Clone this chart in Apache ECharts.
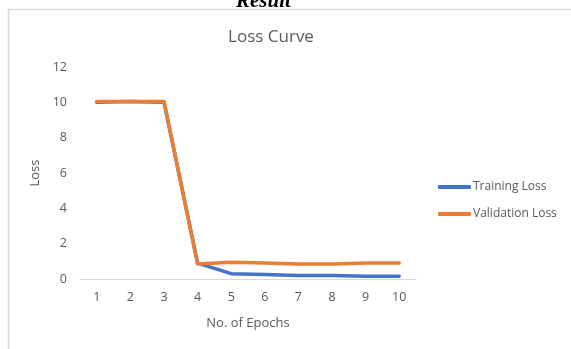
<!DOCTYPE html>
<html>
<head>
<meta charset="utf-8">
<script src="https://cdn.jsdelivr.net/npm/echarts@6/dist/echarts.min.js"></script>
<style>html,body{margin:0;padding:0;background:#fff;}#c{width:571px;height:349px;}</style>
</head>
<body>
<div id="c"></div>
<script>
const categories = ['1','2','3','4','5','6','7','8','9','10'];
const trainingLoss = [10.0, 10.05, 10.0, 0.9, 0.3, 0.25, 0.2, 0.2, 0.15, 0.15];
const validationLoss = [10.05, 10.05, 10.05, 0.85, 0.95, 0.9, 0.85, 0.85, 0.9, 0.9];
const seriesNames = ['Training Loss', 'Validation Loss'];

const chart = echarts.init(document.getElementById('c'), null, {renderer: 'canvas'});
const txt = '#595959';
const font = '"Open Sans", "Noto Sans", sans-serif';
chart.setOption({
  animation: false,
  backgroundColor: '#fff',
  graphic: [
    {type: 'rect', shape: {x: 8.5, y: 9.5, width: 600, height: 400}, style: {fill: 'none', stroke: '#d9d9d9', lineWidth: 1.5}, silent: true},
    {type: 'text', left: 236, top: -9, style: {text: 'Result', font: 'italic bold 21px "Liberation Serif", serif', fill: '#000'}}
  ],
  title: {
    text: 'Loss Curve', left: 266, top: 24, textAlign: 'center',
    textStyle: {color: txt, fontSize: 17, fontWeight: 'normal', fontFamily: font}
  },
  legend: {
    orient: 'vertical', left: 438, top: 181, padding: 0, itemGap: 15, itemWidth: 33, itemHeight: 4,
    icon: 'roundRect',
    textStyle: {color: txt, fontSize: 12, fontFamily: font, padding: [0,0,0,-3]},
    data: seriesNames
  },
  grid: {left: 80, right: 155, top: 67, bottom: 70},
  xAxis: {
    type: 'category', data: categories, boundaryGap: true,
    name: 'No. of Epochs', nameLocation: 'middle', nameGap: 38,
    nameTextStyle: {color: txt, fontSize: 13, fontFamily: font},
    axisLine: {lineStyle: {color: '#d9d9d9', width: 1}},
    axisTick: {show: false},
    axisLabel: {color: txt, fontSize: 12.5, fontFamily: font, margin: 12}
  },
  yAxis: {
    type: 'value', min: 0, max: 12, interval: 2,
    name: 'Loss', nameLocation: 'middle', nameGap: 33,
    nameTextStyle: {color: txt, fontSize: 13, fontFamily: font},
    axisLine: {show: false}, axisTick: {show: false},
    splitLine: {show: false},
    axisLabel: {color: txt, fontSize: 12.5, fontFamily: font, margin: 13}
  },
  series: [
    {name: seriesNames[0], type: 'line', data: trainingLoss, symbol: 'none', color: '#4472C4', lineStyle: {width: 3.5, cap: 'round', join: 'round'}},
    {name: seriesNames[1], type: 'line', data: validationLoss, symbol: 'none', color: '#ED7D31', lineStyle: {width: 3.5, cap: 'round', join: 'round'}}
  ]
});
</script>
</body>
</html>
